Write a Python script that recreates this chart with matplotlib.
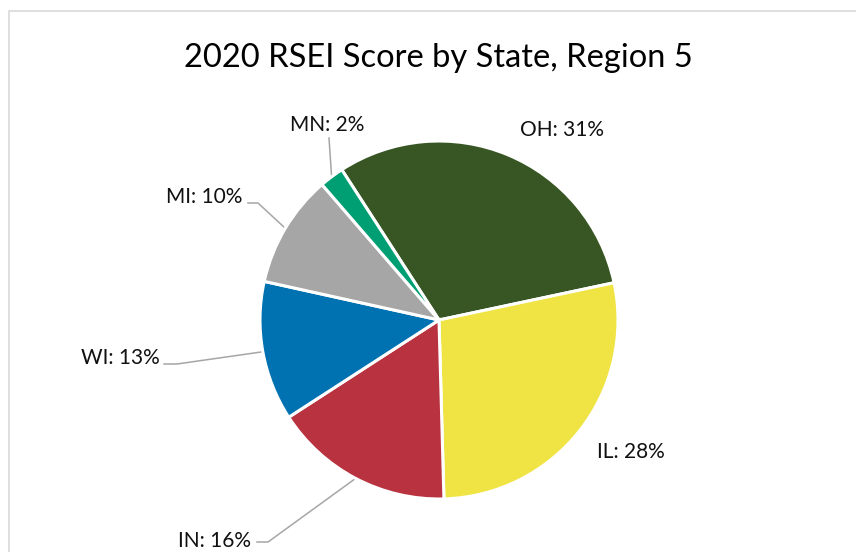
import numpy as np
import matplotlib
matplotlib.use("Agg")
import matplotlib.pyplot as plt
from matplotlib.patches import Rectangle

# ---- data ----
states = ["OH", "IL", "IN", "WI", "MI", "MN"]
scores = [30.8, 27.9, 16.3, 12.6, 10.2, 2.2]
colors = ["#375623", "#EFE443", "#B8333F", "#0072B2", "#A6A6A6", "#009E73"]
title = "2020 RSEI Score by State, Region 5"

W, H = 856, 552
plt.rcParams['font.family'] = ['Lato', 'DejaVu Sans']

fig = plt.figure(figsize=(W / 100, H / 100), dpi=100)
ax = fig.add_axes([0, 0, 1, 1])

cx, cy, R = 439, H - 320, 179
start = 122.9
wedges, _ = ax.pie(scores, colors=colors, startangle=start, counterclock=False,
                   center=(cx, cy), radius=R,
                   wedgeprops=dict(edgecolor="white", linewidth=2.2))
ax.set_xlim(0, W)
ax.set_ylim(0, H)
ax.set_aspect('equal')
ax.axis('off')

# frame of chart area
ax.add_patch(Rectangle((9, -20), W + 40, H - 11 + 20, fill=False,
                       edgecolor="#D9D9D9", linewidth=1.2, zorder=0))

ax.text(438, H - 58, title, ha="center", va="center", fontsize=23.5, color="#000000")

total = sum(scores)
labels = [f"{s}: {v / total * 100:.0f}%" for s, v in zip(states, scores)]

# label layout: (text x, text y, ha, elbow points (pixel coords) or None)
layout = {
    "OH": (562, 130, "center", None),
    "IL": (631, 452, "center", None),
    "IN": (215, 541, "center", [(257, 542), (268, 542)]),
    "WI": (120, 358, "center", [(164, 364), (177, 364)]),
    "MI": (204, 197, "center", [(248, 203), (258, 203)]),
    "MN": (327, 125, "center", [(329, 138)]),
}

for w, s, lab in zip(wedges, states, labels):
    tx, ty, ha, pts = layout[s]
    ax.text(tx, H - ty, lab, ha=ha, va="center", fontsize=15, color="#111111")
    if pts:
        mid = np.deg2rad((w.theta1 + w.theta2) / 2)
        ex, ey = cx + R * np.cos(mid), cy + R * np.sin(mid)
        xs = [p[0] for p in pts] + [ex]
        ys = [H - p[1] for p in pts] + [ey]
        ax.plot(xs, ys, color="#A6A6A6", linewidth=1.1, zorder=0.5)

fig.savefig("out.png", dpi=100)
